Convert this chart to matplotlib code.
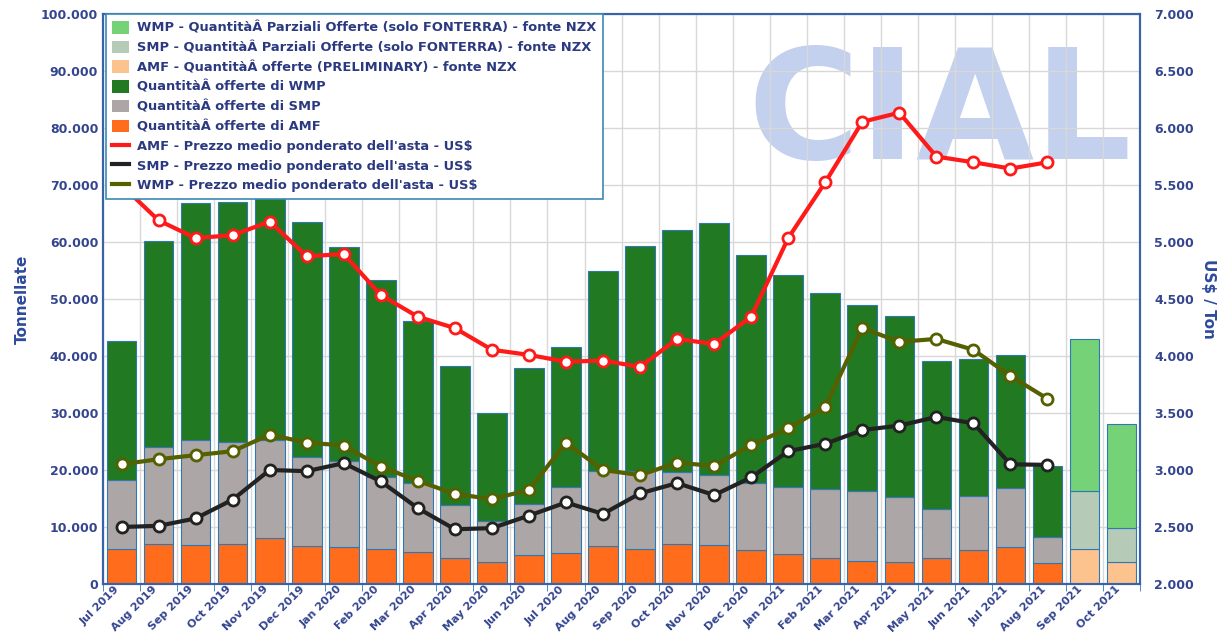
import numpy as np
import matplotlib
matplotlib.use('Agg')
import matplotlib.pyplot as plt
from matplotlib import font_manager
from matplotlib.patches import Patch
from matplotlib.lines import Line2D
from matplotlib.ticker import FuncFormatter

months = ['Jul 2019', 'Aug 2019', 'Sep 2019', 'Oct 2019', 'Nov 2019', 'Dec 2019',
          'Jan 2020', 'Feb 2020', 'Mar 2020', 'Apr 2020', 'May 2020', 'Jun 2020',
          'Jul 2020', 'Aug 2020', 'Sep 2020', 'Oct 2020', 'Nov 2020', 'Dec 2020',
          'Jan 2021', 'Feb 2021', 'Mar 2021', 'Apr 2021', 'May 2021', 'Jun 2021',
          'Jul 2021', 'Aug 2021', 'Sep 2021', 'Oct 2021']

# quantita' offerte (tonnellate), Jul 2019 - Aug 2021
amf_qty = [6100, 7000, 6800, 7000, 8000, 6700, 6500, 6100, 5600, 4500, 3800, 5100, 5400,
           6600, 6100, 7000, 6800, 5900, 5200, 4500, 4000, 3800, 4500, 5900, 6500, 3600]
smp_qty = [12100, 17100, 18500, 17900, 17300, 15600, 15000, 12600, 12100, 9300, 7200, 8900, 11600,
           13200, 13800, 12600, 12300, 11900, 11800, 12100, 12400, 11400, 8700, 9600, 10300, 4600]
wmp_qty = [24400, 36000, 41500, 42100, 42500, 41300, 37600, 34600, 28500, 24500, 19000, 23900, 24600,
           35100, 39400, 42500, 44200, 39900, 37200, 34400, 32600, 31800, 26000, 24000, 23400, 12500]

# Sep 2021, Oct 2021 (parziali / preliminary)
amf_prel = [6100, 3800]
smp_prel = [10300, 6000]
wmp_prel = [26600, 18200]

# prezzi medi ponderati US$/ton, Jul 2019 - Aug 2021
amf_price = [5500, 5190, 5035, 5060, 5180, 4875, 4895, 4535, 4345, 4245, 4055, 4010, 3950,
             3960, 3905, 4150, 4105, 4345, 5035, 5525, 6055, 6135, 5750, 5700, 5645, 5700]
smp_price = [2500, 2510, 2575, 2740, 3000, 2990, 3060, 2900, 2665, 2480, 2490, 2600, 2715,
             2615, 2795, 2885, 2780, 2935, 3165, 3230, 3350, 3390, 3465, 3410, 3050, 3045]
wmp_price = [3050, 3095, 3130, 3165, 3310, 3240, 3215, 3030, 2905, 2790, 2745, 2825, 3240,
             3000, 2955, 3065, 3035, 3220, 3365, 3555, 4245, 4125, 4150, 4055, 3825, 3625]

navy = '#34458f'
edge = '#2f78b5'

fig = plt.figure(figsize=(12.28, 6.36), dpi=100, facecolor='white')
ax = fig.add_axes([0.0839, 0.0818, 0.8445, 0.896])
ax2 = ax.twinx()

x = np.arange(len(amf_qty))
xp = np.arange(len(amf_qty), len(months))
w = 0.8

# logo in filigrana
installed = {f.name for f in font_manager.fontManager.ttflist}
if 'Liberation Sans Narrow' in installed:
    logo_font, logo_size = 'Liberation Sans Narrow', 142
else:
    logo_font, logo_size = 'DejaVu Sans', 110
ax.text(22.1, 82000, 'CIAL', ha='center', va='center', fontsize=logo_size, fontweight='bold',
        family=logo_font, color='#c3d1ee', zorder=0.3)

amf = np.array(amf_qty)
smp = np.array(smp_qty)
ax.bar(x, amf_qty, w, color='#ff6d1c', edgecolor=edge, linewidth=0.8, zorder=2)
ax.bar(x, smp_qty, w, bottom=amf, color='#aca6a6', edgecolor=edge, linewidth=0.8, zorder=2)
ax.bar(x, wmp_qty, w, bottom=amf + smp, color='#217a21', edgecolor=edge, linewidth=0.8, zorder=2)

amfp = np.array(amf_prel)
smpp = np.array(smp_prel)
ax.bar(xp, amf_prel, w, color='#fdc38f', edgecolor=edge, linewidth=0.8, zorder=2)
ax.bar(xp, smp_prel, w, bottom=amfp, color='#b5cbb8', edgecolor=edge, linewidth=0.8, zorder=2)
ax.bar(xp, wmp_prel, w, bottom=amfp + smpp, color='#76d276', edgecolor=edge, linewidth=0.8, zorder=2)

ax.set_xlim(-0.5, len(months) - 0.5)
ax.set_ylim(0, 100000)
ax.set_yticks(np.arange(0, 100001, 10000))
ax.yaxis.set_major_formatter(FuncFormatter(lambda v, p: '{:,.0f}'.format(v).replace(',', '.')))
ax.set_xticks(np.arange(len(months)))
ax.set_xticklabels(months, rotation=45, ha='right')
ax.set_xticks(np.arange(len(months) + 1) - 0.5, minor=True)
ax.tick_params(axis='x', which='major', length=0, pad=0)
ax.tick_params(axis='x', which='minor', length=5, color=edge)
ax.tick_params(axis='y', length=0)
ax.set_axisbelow(True)
ax.grid(axis='y', color='#d8d8d8', linewidth=1)
ax.grid(axis='x', which='minor', color='#d8d8d8', linewidth=1)

for lab in ax.get_xticklabels() + ax.get_yticklabels():
    lab.set_fontweight('bold')
    lab.set_fontsize(9)
    lab.set_color(navy)
for lab in ax.get_xticklabels():
    lab.set_fontsize(8)

ax.set_ylabel('Tonnellate', fontsize=11, fontweight='bold', color='#2e4a9c', labelpad=8)

ax2.plot(x, amf_price, color='#ff1a1a', lw=3, marker='o', ms=8, mfc='white', mec='#ff1a1a', mew=2, zorder=3)
ax2.plot(x, smp_price, color='#222222', lw=3, marker='o', ms=8, mfc='white', mec='#222222', mew=2, zorder=3)
ax2.plot(x, wmp_price, color='#556000', lw=3, marker='o', ms=8, mfc='white', mec='#556000', mew=2, zorder=3)
ax2.set_ylim(2000, 7000)
ax2.set_yticks(np.arange(2000, 7001, 500))
ax2.yaxis.set_major_formatter(FuncFormatter(lambda v, p: '{:,.0f}'.format(v).replace(',', '.')))
ax2.tick_params(axis='y', length=0, pad=10)
for lab in ax2.get_yticklabels():
    lab.set_fontweight('bold')
    lab.set_fontsize(9)
    lab.set_color(navy)
ax2.set_ylabel('US$ / Ton', fontsize=11, fontweight='bold', color='#2e4a9c', rotation=270, labelpad=16)

for a in (ax, ax2):
    for s in a.spines.values():
        s.set_color('#3a62a8')
        s.set_linewidth(1.5)

handles = [
    Patch(facecolor='#76d276', edgecolor='none'),
    Patch(facecolor='#b5cbb8', edgecolor='none'),
    Patch(facecolor='#fdc38f', edgecolor='none'),
    Patch(facecolor='#217a21', edgecolor='none'),
    Patch(facecolor='#aca6a6', edgecolor='none'),
    Patch(facecolor='#ff6d1c', edgecolor='none'),
    Line2D([], [], color='#ff1a1a', lw=3),
    Line2D([], [], color='#222222', lw=3),
    Line2D([], [], color='#556000', lw=3),
]
labels = [
    'WMP - QuantitàÂ Parziali Offerte (solo FONTERRA) - fonte NZX',
    'SMP - QuantitàÂ Parziali Offerte (solo FONTERRA) - fonte NZX',
    'AMF - QuantitàÂ offerte (PRELIMINARY) - fonte NZX',
    'QuantitàÂ offerte di WMP',
    'QuantitàÂ offerte di SMP',
    'QuantitàÂ offerte di AMF',
    "AMF - Prezzo medio ponderato dell'asta - US$",
    "SMP - Prezzo medio ponderato dell'asta - US$",
    "WMP - Prezzo medio ponderato dell'asta - US$",
]
leg = ax2.legend(handles, labels, loc='upper left', bbox_to_anchor=(0.0, 1.004),
                 prop={'weight': 'bold', 'size': 9.4}, frameon=True, fancybox=False,
                 handlelength=1.3, handleheight=1.1, handletextpad=0.6, labelspacing=0.46,
                 borderpad=0.5, borderaxespad=0.2)
leg.get_frame().set_edgecolor('#3a8ab8')
leg.get_frame().set_linewidth(1.2)
leg.get_frame().set_alpha(1)
for t in leg.get_texts():
    t.set_color('#2b3a80')
leg.set_zorder(10)

plt.savefig('out.png', dpi=100)
